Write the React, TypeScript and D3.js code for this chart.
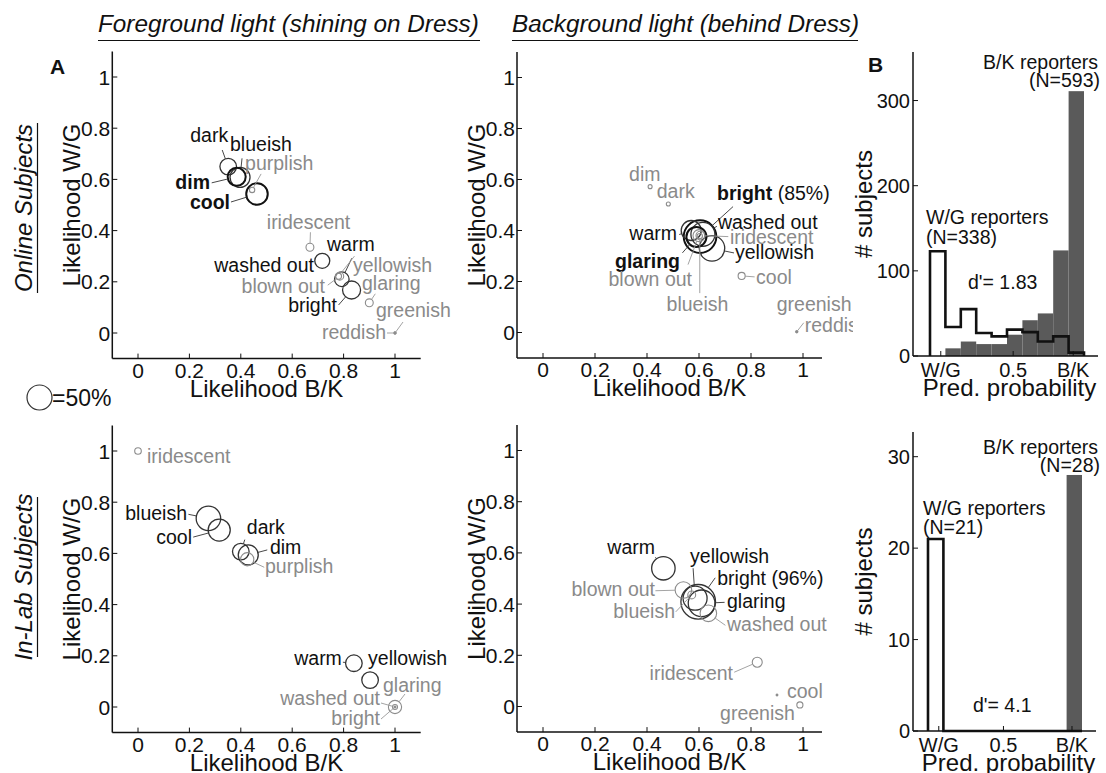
import React from "react";
import * as d3 from "d3";

const FONT = "'Liberation Sans', Arial, Helvetica, sans-serif";
const GRAY = "#8a8a8a";

// ---- Panel A, foreground light, online subjects ----
const fgOnlineWords = ["dark", "blueish", "dim", "purplish", "cool", "iridescent", "washed out", "warm", "yellowish", "blown out", "bright", "glaring", "greenish", "reddish"];
const fgOnlineBK = [0.351, 0.397, 0.384, 0.444, 0.463, 0.669, 0.717, 0.793, 0.78, 0.785, 0.831, 0.9, 1.0, 1.0];
const fgOnlineWG = [0.65, 0.608, 0.61, 0.559, 0.543, 0.335, 0.282, 0.21, 0.222, 0.222, 0.168, 0.118, 0.0, 0.0];
const fgOnlinePct = [22, 32, 26, 2.3, 37, 5, 18, 17, 3, 5, 26, 5, 0.3, 0.7];

// ---- Panel A, background light, online subjects ----
const bgOnlineWords = ["dim", "dark", "bright", "washed out", "warm", "iridescent", "yellowish", "glaring", "blown out", "blueish", "cool", "greenish", "reddish"];
const bgOnlineBK = [0.412, 0.482, 0.604, 0.615, 0.57, 0.605, 0.65, 0.59, 0.6, 0.603, 0.764, 0.976, 0.976];
const bgOnlineWG = [0.572, 0.504, 0.376, 0.385, 0.4, 0.38, 0.33, 0.375, 0.38, 0.378, 0.222, 0.003, 0.003];
const bgOnlinePct = [1.3, 1.3, 85, 46, 32, 6, 52, 32, 11.5, 2.3, 4, 0.5, 0.5];

// ---- Panel A, foreground light, in-lab subjects ----
const fgLabWords = ["iridescent", "blueish", "cool", "dark", "dim", "purplish", "warm", "yellowish", "glaring", "washed out", "bright"];
const fgLabBK = [0.0, 0.274, 0.316, 0.4, 0.429, 0.425, 0.84, 0.903, 1.0, 1.0, 1.0];
const fgLabWG = [1.0, 0.737, 0.691, 0.607, 0.594, 0.577, 0.171, 0.105, 0.0, 0.0, 0.0];
const fgLabPct = [3.5, 48, 39, 22, 32, 14, 22, 22, 14, 2, 0.3];

// ---- Panel A, background light, in-lab subjects ----
const bgLabWords = ["warm", "yellowish", "bright", "glaring", "blown out", "blueish", "washed out", "iridescent", "cool", "greenish"];
const bgLabBK = [0.463, 0.585, 0.597, 0.61, 0.54, 0.572, 0.636, 0.824, 0.9, 0.988];
const bgLabWG = [0.54, 0.423, 0.409, 0.403, 0.455, 0.436, 0.364, 0.173, 0.045, 0.006];
const bgLabPct = [44, 46, 96, 57, 22, 5, 22, 8, 0.1, 3];

const likelihoodTicks = [0, 0.2, 0.4, 0.6, 0.8, 1];
const likelihoodTickLabels = ["0", "0.2", "0.4", "0.6", "0.8", "1"];

// ---- Panel B, histograms of predicted probability (10 bins, W/G .. B/K) ----
const onlineWGCounts = [123, 34, 55, 27, 23, 31, 28, 17, 23, 4];
const onlineBKCounts = [0, 9, 17, 14, 14, 25, 42, 50, 124, 311];
const labWGCounts = [21, 0, 0, 0, 0, 0, 0, 0, 0, 0];
const labBKCounts = [0, 0, 0, 0, 0, 0, 0, 0, 0, 28];
const onlineCountTicks = [0, 100, 200, 300];
const labCountTicks = [0, 10, 20, 30];
const probTickLabels = ["W/G", "0.5", "B/K"];

type Style = "b" | "k" | "g";
type Lab = { dx: number; dy: number; a: "start" | "middle" | "end"; s: Style; lx?: number; ly?: number; suffix?: string };

// label placement relative to each circle (px)
const fgOnlineLayout: Lab[] = [
  { dx: -38, dy: -24.6, a: "start", s: "k", lx: -6, ly: -16.6 },
  { dx: -10, dy: -26.3, a: "start", s: "k", lx: 2, ly: -19 },
  { dx: -26.7, dy: 12.2, a: "end", s: "b", lx: -25, ly: 6 },
  { dx: -7, dy: -20, a: "start", s: "g", lx: 9, ly: -16 },
  { dx: -27, dy: 15, a: "end", s: "b", lx: -26, ly: 8 },
  { dx: -1.4, dy: -18, a: "middle", s: "g", lx: 0.5, ly: -15 },
  { dx: -8.3, dy: 11.2, a: "end", s: "k" },
  { dx: -14.8, dy: -28.2, a: "start", s: "k", lx: 10, ly: -21 },
  { dx: 14.5, dy: -4.2, a: "start", s: "g", lx: 16, ly: -20 },
  { dx: -14.7, dy: 16.8, a: "end", s: "g", lx: -12, ly: 9 },
  { dx: -14.6, dy: 22, a: "end", s: "k", lx: -13, ly: 15 },
  { dx: -7.3, dy: -12.8, a: "start", s: "g", lx: 6, ly: -9 },
  { dx: -19, dy: -16, a: "start", s: "g", lx: 8, ly: -11 },
  { dx: -9, dy: 6, a: "end", s: "g", lx: -8, ly: 0 },
];

const bgOnlineLayout: Lab[] = [
  { dx: -21, dy: -5.6, a: "start", s: "g" },
  { dx: -11.6, dy: -5.7, a: "start", s: "g" },
  { dx: 17, dy: -36.6, a: "start", s: "b", lx: 33, ly: -30, suffix: " (85%)" },
  { dx: 15, dy: -5.3, a: "start", s: "k", lx: 14, ly: -8 },
  { dx: -14.2, dy: 9.5, a: "end", s: "k", lx: -12, ly: 4 },
  { dx: 29.7, dy: 8.4, a: "start", s: "g", lx: 28, ly: 1 },
  { dx: 23, dy: 10.6, a: "start", s: "k", lx: 22, ly: 4.6 },
  { dx: -16.4, dy: 31, a: "end", s: "b", lx: -14, ly: 16 },
  { dx: -7, dy: 50.4, a: "end", s: "g", lx: -11, ly: 29 },
  { dx: -2.3, dy: 75, a: "middle", s: "g", lx: 0, ly: 57 },
  { dx: 14.4, dy: 8, a: "start", s: "g", lx: 13, ly: 1 },
  { dx: -20, dy: -20.7, a: "start", s: "g" },
  { dx: 8, dy: 0.3, a: "start", s: "g", lx: 7, ly: -9 },
];

const fgLabLayout: Lab[] = [
  { dx: 9, dy: 12, a: "start", s: "g" },
  { dx: -21.4, dy: 1.7, a: "end", s: "k", lx: -20, ly: -4 },
  { dx: -27.2, dy: 14, a: "end", s: "k", lx: -26, ly: 7 },
  { dx: 6, dy: -17.6, a: "start", s: "k", lx: 4, ly: -12 },
  { dx: 21.7, dy: -1, a: "start", s: "k", lx: 19, ly: -5 },
  { dx: 17.8, dy: 13.7, a: "start", s: "g", lx: 17, ly: 8 },
  { dx: -12, dy: 2, a: "end", s: "k", lx: -11, ly: -1 },
  { dx: -2, dy: -15, a: "start", s: "k" },
  { dx: -12, dy: -15, a: "start", s: "g", lx: 10, ly: -13 },
  { dx: -15, dy: -2, a: "end", s: "g", lx: -14, ly: -4 },
  { dx: -15, dy: 18, a: "end", s: "g", lx: -14, ly: 12 },
];

const bgLabLayout: Lab[] = [
  { dx: -8.4, dy: -14.3, a: "end", s: "k", lx: -8, ly: -11 },
  { dx: -5, dy: -35, a: "start", s: "k", lx: -2, ly: -30 },
  { dx: 19, dy: -17, a: "start", s: "k", lx: 17, ly: -24, suffix: " (96%)" },
  { dx: 25.4, dy: 4.7, a: "start", s: "k", lx: 23, ly: -1 },
  { dx: -28.4, dy: 6, a: "end", s: "g", lx: -28, ly: 0.7 },
  { dx: -16.7, dy: 23, a: "end", s: "g", lx: -16, ly: 17 },
  { dx: 18.6, dy: 17.7, a: "start", s: "g", lx: 17, ly: 12 },
  { dx: -24.2, dy: 17.8, a: "end", s: "g", lx: -23, ly: 10 },
  { dx: 10, dy: 3, a: "start", s: "g" },
  { dx: -5, dy: 15, a: "end", s: "g" },
];

const radius = d3.scaleSqrt().domain([0, 50]).range([0, 12.5]);

const textColor = (s: Style) => (s === "g" ? GRAY : "#111");
const strokeColor = (s: Style) => (s === "g" ? "#8c8c8c" : s === "b" ? "#111" : "#333");
const strokeW = (s: Style) => (s === "b" ? 2 : s === "k" ? 1.3 : 1.1);

type ScatterProps = {
  words: string[]; bk: number[]; wg: number[]; pct: number[]; layout: Lab[];
  xr: [number, number]; yr: [number, number]; xEnd: number; clipId?: string; clipRight?: number;
};

function Scatter({ words, bk, wg, pct, layout, xr, yr, xEnd, clipId, clipRight }: ScatterProps) {
  const x = d3.scaleLinear().domain([-0.1, 1.1]).range(xr);
  const y = d3.scaleLinear().domain([-0.1, 1.1]).range(yr);
  const ax = x(-0.1), ay = y(-0.1), axEnd = x(xEnd), ayTop = y(1.1);
  const midX = (ax + axEnd) / 2, midY = (ay + ayTop) / 2;
  return (
    <g>
      {clipId && (
        <defs>
          <clipPath id={clipId}>
            <rect x={0} y={0} width={clipRight} height={773} />
          </clipPath>
        </defs>
      )}
      {/* axes */}
      <line x1={ax} x2={ax} y1={ayTop} y2={ay} stroke="#111" strokeWidth={1.5} />
      <line x1={ax} x2={axEnd} y1={ay} y2={ay} stroke="#111" strokeWidth={1.5} />
      {likelihoodTicks.map((t, i) => (
        <g key={"yt" + i}>
          <line x1={ax} x2={ax + 5} y1={y(t)} y2={y(t)} stroke="#111" strokeWidth={1} />
          <text x={ax - 2} y={y(t) + 7.5} textAnchor="end" fontSize={21} fill="#111">{likelihoodTickLabels[i]}</text>
        </g>
      ))}
      {likelihoodTicks.map((t, i) => (
        <g key={"xt" + i}>
          <line x1={x(t)} x2={x(t)} y1={ay} y2={ay - 5} stroke="#111" strokeWidth={1} />
          <text x={x(t)} y={ay + 19} textAnchor="middle" fontSize={21} fill="#111">{likelihoodTickLabels[i]}</text>
        </g>
      ))}
      <text x={midX} y={ay + 38} textAnchor="middle" fontSize={24} fill="#111">Likelihood B/K</text>
      <text transform={`translate(${ax - 32},${midY}) rotate(-90)`} textAnchor="middle" fontSize={24} fill="#111">Likelihood W/G</text>
      {/* word circles */}
      {words.map((w, i) => {
        const r = radius(pct[i]);
        const st = layout[i].s;
        const small = r < 2;
        return (
          <circle key={"c" + i} cx={x(bk[i])} cy={y(wg[i])} r={small ? Math.max(r, 1.2) : r}
            fill={small ? strokeColor(st) : "none"} stroke={strokeColor(st)} strokeWidth={small ? 0.5 : strokeW(st)} />
        );
      })}
      <g clipPath={clipId ? `url(#${clipId})` : undefined}>
        {words.map((w, i) => {
          const L = layout[i];
          if (L.lx === undefined || L.ly === undefined) return null;
          const cx = x(bk[i]), cy = y(wg[i]);
          const r = radius(pct[i]);
          const d = Math.hypot(L.lx, L.ly);
          if (d <= r + 0.5) return null;
          return (
            <line key={"l" + i} x1={cx + L.lx} y1={cy + L.ly} x2={cx + (L.lx * r) / d} y2={cy + (L.ly * r) / d}
              stroke={L.s === "g" ? "#999" : "#333"} strokeWidth={0.9} />
          );
        })}
        {words.map((w, i) => {
          const L = layout[i];
          const cx = x(bk[i]), cy = y(wg[i]);
          return (
            <text key={"t" + i} x={cx + L.dx} y={cy + L.dy} textAnchor={L.a} fontSize={19.5}
              fontWeight={L.s === "b" ? "bold" : "normal"} fill={textColor(L.s)}>
              {w}
              {L.suffix && <tspan fontWeight="normal" fill="#111">{L.suffix}</tspan>}
            </text>
          );
        })}
      </g>
    </g>
  );
}

type HistProps = {
  wg: number[]; bk: number[]; xr: [number, number]; yTop: number; yr: [number, number];
  axisX: number; axisXEnd: number; countTicks: number[]; probTicks: number[];
};

function Hist({ wg, bk, xr, yTop, yr, axisX, axisXEnd, countTicks, probTicks }: HistProps) {
  const x = d3.scaleLinear().domain([0, 1]).range(xr);
  const y = d3.scaleLinear().domain([0, yTop]).range(yr);
  const n = bk.length;
  const w = 1 / n;
  const stepPts: [number, number][] = [[0, 0]];
  wg.forEach((v, i) => stepPts.push([i * w, v]));
  stepPts.push([1, wg[n - 1]]);
  stepPts.push([1, 0]);
  const stepLine = d3.line<[number, number]>().x((d) => x(d[0])).y((d) => y(d[1])).curve(d3.curveStepAfter);
  const base = y(0);
  return (
    <g>
      {bk.map((v, i) =>
        v > 0 ? (
          <rect key={"b" + i} x={x(i * w)} y={y(v)} width={x((i + 1) * w) - x(i * w)} height={base - y(v)} fill="#5a5a5a" />
        ) : null
      )}
      <path d={stepLine(stepPts) || ""} fill="none" stroke="#111" strokeWidth={2.6} strokeLinejoin="miter" />
      <line x1={axisX} x2={axisX} y1={yr[1]} y2={base} stroke="#111" strokeWidth={1.5} />
      <line x1={axisX} x2={axisXEnd} y1={base} y2={base} stroke="#111" strokeWidth={1.5} />
      {countTicks.map((t) => (
        <g key={"ct" + t}>
          <line x1={axisX} x2={axisX + 5} y1={y(t)} y2={y(t)} stroke="#111" strokeWidth={1} />
          <text x={axisX - 3} y={y(t) + 7} textAnchor="end" fontSize={20} fill="#111">{t}</text>
        </g>
      ))}
      {probTicks.map((t, i) => (
        <g key={"pt" + i}>
          <line x1={x(t)} x2={x(t)} y1={base} y2={base - 5} stroke="#111" strokeWidth={1} />
          <text x={x(t)} y={base + 21} textAnchor="middle" fontSize={20} fill="#111">{probTickLabels[i]}</text>
        </g>
      ))}
      <text x={(axisX + axisXEnd) / 2 + 4} y={base + 40} textAnchor="middle" fontSize={24} fill="#111">Pred. probability</text>
      <text transform={`translate(${axisX - 41},${(yr[1] + base) / 2}) rotate(-90)`} textAnchor="middle" fontSize={24} fill="#111"># subjects</text>
    </g>
  );
}

export default function App() {
  return (
    <svg width={1106} height={773} style={{ position: "absolute", left: 0, top: 0, background: "#fff" }} fontFamily={FONT}>
      <rect x={0} y={0} width={1106} height={773} fill="#fff" />
      {/* column titles */}
      <text x={98} y={32} fontSize={24.3} fontStyle="italic" fill="#111">Foreground light (shining on Dress)</text>
      <line x1={98} x2={480} y1={40.5} y2={40.5} stroke="#111" strokeWidth={1.2} />
      <text x={512} y={32} fontSize={24.3} fontStyle="italic" fill="#111">Background light (behind Dress)</text>
      <line x1={512} x2={858} y1={40.5} y2={40.5} stroke="#111" strokeWidth={1.2} />

      {/* row titles */}
      <text transform="translate(32,208) rotate(-90)" textAnchor="middle" fontSize={24} fontStyle="italic" fill="#111">Online Subjects</text>
      <line x1={37.5} x2={37.5} y1={123} y2={293} stroke="#111" strokeWidth={1.2} />
      <text transform="translate(32,577) rotate(-90)" textAnchor="middle" fontSize={24} fontStyle="italic" fill="#111">In-Lab Subjects</text>
      <line x1={37.5} x2={37.5} y1={497} y2={657} stroke="#111" strokeWidth={1.2} />

      <text x={50} y={74} fontSize={21} fontWeight="bold" fill="#111">A</text>
      <text x={868} y={72} fontSize={21} fontWeight="bold" fill="#111">B</text>

      <Scatter words={fgOnlineWords} bk={fgOnlineBK} wg={fgOnlineWG} pct={fgOnlinePct} layout={fgOnlineLayout}
        xr={[112.3, 420.7]} yr={[358.6, 51.4]} xEnd={1.1} />
      <Scatter words={bgOnlineWords} bk={bgOnlineBK} wg={bgOnlineWG} pct={bgOnlinePct} layout={bgOnlineLayout}
        xr={[517, 829]} yr={[358, 52]} xEnd={1.073} clipId="clipBgOnline" clipRight={853} />
      <Scatter words={fgLabWords} bk={fgLabBK} wg={fgLabWG} pct={fgLabPct} layout={fgLabLayout}
        xr={[112.3, 420.7]} yr={[732.6, 425.4]} xEnd={1.1} />
      <Scatter words={bgLabWords} bk={bgLabBK} wg={bgLabWG} pct={bgLabPct} layout={bgLabLayout}
        xr={[517, 829]} yr={[732.1, 424.9]} xEnd={1.073} />

      {/* circle size key */}
      <circle cx={39.5} cy={397.5} r={radius(50)} fill="none" stroke="#333" strokeWidth={1.2} />
      <text x={52} y={406} fontSize={23} fill="#111">=50%</text>

      {/* Panel B */}
      <Hist wg={onlineWGCounts} bk={onlineBKCounts} xr={[930, 1084]} yTop={357} yr={[356, 52]}
        axisX={913} axisXEnd={1098} countTicks={onlineCountTicks} probTicks={[0.07, 0.54, 0.93]} />
      <text x={1098} y={69} textAnchor="end" fontSize={19.5} fill="#111">B/K reporters</text>
      <text x={1100} y={87} textAnchor="end" fontSize={19.5} fill="#111">(N=593)</text>
      <text x={926} y={224} fontSize={19.5} fill="#111">W/G reporters</text>
      <text x={926} y={244} fontSize={19.5} fill="#111">(N=338)</text>
      <text x={968} y={289} fontSize={19.5} fill="#111">d'= 1.83</text>

      <Hist wg={labWGCounts} bk={labBKCounts} xr={[928, 1082]} yTop={32.7} yr={[731, 432]}
        axisX={913} axisXEnd={1096} countTicks={labCountTicks} probTicks={[0.07, 0.49, 0.935]} />
      <text x={1098} y={454} textAnchor="end" fontSize={19.5} fill="#111">B/K reporters</text>
      <text x={1100} y={472} textAnchor="end" fontSize={19.5} fill="#111">(N=28)</text>
      <text x={923} y={515} fontSize={19.5} fill="#111">W/G reporters</text>
      <text x={923} y={534} fontSize={19.5} fill="#111">(N=21)</text>
      <text x={973} y={712} fontSize={19.5} fill="#111">d'= 4.1</text>
    </svg>
  );
}
